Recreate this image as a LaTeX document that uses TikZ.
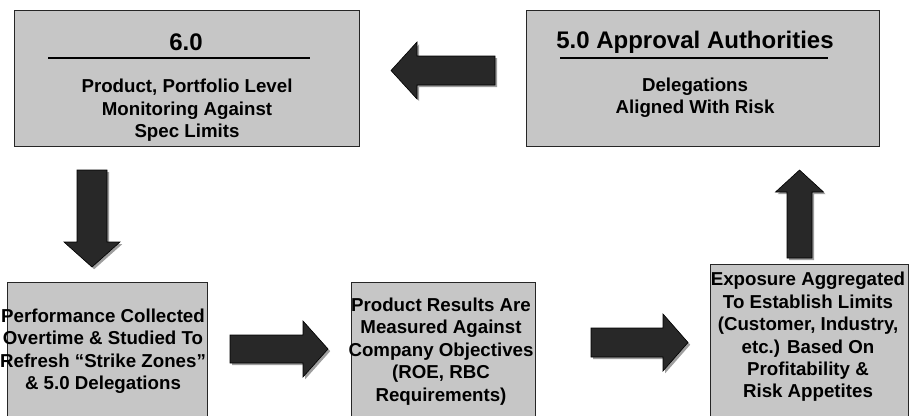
\documentclass[tikz,border=0pt]{standalone}
\usepackage{fontspec}
\setmainfont{Liberation Sans}
\definecolor{boxgray}{RGB}{198,198,198}
\definecolor{arrowgray}{RGB}{40,40,40}
\begin{document}
\begin{tikzpicture}[x=1pt,y=-1pt,
  box/.style={draw=black!85, line width=0.8pt, fill=boxgray, inner sep=0pt, anchor=north west},
  bodytext/.style={align=center, inner sep=0pt, font=\bfseries\fontsize{18.7}{22.4}\selectfont},
  titletext/.style={inner sep=0pt, font=\bfseries\fontsize{24}{28}\selectfont},
  titlerule/.style={line width=2.6pt},
  arrowbody/.style={fill=arrowgray, draw=black, line width=0.6pt, line join=miter,
    preaction={fill=black!38, transform canvas={xshift=2.2pt,yshift=-2.2pt}}},
  % block arrow pointing along +x from its tail:
  % #1 length, #2 shaft half-width, #3 head half-width, #4 head length
  pics/blockarrow/.style n args={4}{code={
    \path[arrowbody] (0,-#2) -- ({#1-#4},-#2) -- ({#1-#4},-#3) -- (#1,0)
      -- ({#1-#4},#3) -- ({#1-#4},#2) -- (0,#2) -- cycle;
  }},
]
\useasboundingbox (0,0) rectangle (909,415);

% upper boxes
\node[box, minimum width=345pt, minimum height=136pt] (mon) at (14,10) {};
\node[titletext] (montitle) at (186,42) {6.0};
\draw[titlerule] (48,58) -- (310,58);
\node[bodytext] (monbody) at (187,110.5) {Product, Portfolio Level\\Monitoring Against\\Spec Limits};

\node[box, minimum width=353pt, minimum height=136pt] (appr) at (526,10) {};
\node[titletext] (apprtitle) at (695,42) {5.0 Approval Authorities};
\draw[titlerule] (560,58) -- (828,58);
\node[bodytext] (apprbody) at (695,97.5) {Delegations\\Aligned With Risk};

% lower boxes
\node[box, minimum width=200pt, minimum height=150pt] (perf) at (7,282) {};
\node[bodytext] (perftext) at (103,351) {Performance Collected\\Overtime \& Studied To\\Refresh “Strike Zones”\\\& 5.0 Delegations};

\node[box, minimum width=184pt, minimum height=150pt] (res) at (351,282) {};
\node[bodytext] (restext) at (441,351.5) {Product Results Are\\Measured Against\\Company Objectives\\(ROE, RBC\\Requirements)};

\node[box, minimum width=198pt, minimum height=170pt] (exp) at (710,264) {};
\node[bodytext] (exptext) at (808,337) {Exposure Aggregated\\To Establish Limits\\(Customer, Industry,\\etc.) Based On\\Profitability \&\\Risk Appetites};

% block arrows of the cycle
\pic (toMon) [rotate=180] at (495,70.5) {blockarrow={104}{14.5}{28.5}{26}};
\pic (toPerf) [rotate=-90] at (92,170) {blockarrow={97}{15}{28}{25}};
\pic (toRes) at (230,349) {blockarrow={98}{14}{28}{25}};
\pic (toExp) at (591,342.5) {blockarrow={97}{14.5}{28.5}{25}};
\pic (toAppr) [rotate=90] at (799.5,258) {blockarrow={88}{12.5}{24}{22}};
\end{tikzpicture}
\end{document}
